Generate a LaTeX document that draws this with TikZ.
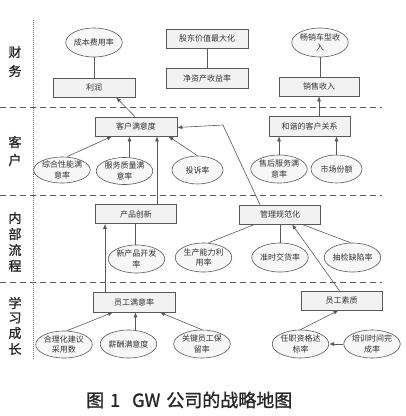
\documentclass[tikz,border=0pt]{standalone}
\usepackage{fontspec}
\newfontfamily\cjk{Noto Sans CJK SC}
\newfontfamily\cjkmid[FakeBold=1.2]{Noto Sans CJK SC}
\usetikzlibrary{shapes.geometric,arrows.meta,calc}
\tikzset{
  box/.style={draw=black!65, fill=black!5, line width=0.6pt, minimum height=19pt, minimum width=82pt, inner sep=0pt, font=\cjk\fontsize{8}{11}\selectfont, text=black!80},
  oval/.style={ellipse, draw=black!65, fill=black!3, line width=0.6pt, inner sep=0pt, align=center, font=\cjk\fontsize{8}{10.5}\selectfont, text=black!80},
  link/.style={draw=black!65, line width=0.6pt},
  arr/.style={link, -{Latex[length=5pt,width=4pt]}},
  sep/.style={draw=black!65, line width=1pt, dash pattern=on 6pt off 4pt},
  cat/.style={font=\cjkmid\fontsize{13}{13}\selectfont, text=black!85},
}
\begin{document}
\begin{tikzpicture}[x=1pt,y=-1pt]
\useasboundingbox (0,0) rectangle (406,416);
% separators
\draw[sep] (0,107) -- (382,107);
\draw[sep] (0,195) -- (382,195);
\draw[sep] (0,282) -- (382,282);
\draw[draw=black!55, line width=0.6pt, dash pattern=on 1pt off 1pt] (33,20) -- (33,360);
% category labels
\node[cat] (c1) at (15,52) {财};
\node[cat] (c2) at (15,71) {务};
\node[cat] (c3) at (15,142) {客};
\node[cat] (c4) at (15,160) {户};
\node[cat] (c5) at (15,218) {内};
\node[cat] (c6) at (15,234) {部};
\node[cat] (c7) at (15,250) {流};
\node[cat] (c8) at (15,266) {程};
\node[cat] (c9) at (15,303) {学};
\node[cat] (c10) at (15,318) {习};
\node[cat] (c11) at (15,333) {成};
\node[cat] (c12) at (15,349) {长};
% finance
\node[oval, minimum width=52pt, minimum height=29pt] (cost) at (94,42.5) {成本费用率};
\node[box] (profit) at (94,87.5) {利润};
\node[box] (sv) at (207,38.5) {股东价值最大化};
\node[box, minimum height=20pt] (roe) at (207,78) {净资产收益率};
\node[oval, minimum width=52pt, minimum height=29pt] (hot) at (320,42.5) {畅销车型收\\入};
\node[box, minimum width=80pt] (sales) at (319,86.5) {销售收入};
% customer
\node[box] (cs) at (136,126.5) {客户满意度};
\node[box, minimum width=81pt, minimum height=20pt] (hr) at (309.5,126) {和谐的客户关系};
\node[oval, minimum width=49pt, minimum height=26pt] (perf) at (62,170) {综合性能满\\意率};
\node[oval, minimum width=46pt, minimum height=27pt] (svc) at (124.5,171) {服务质量满\\意率};
\node[oval, minimum width=51pt, minimum height=28pt] (comp) at (197.5,170) {投诉率};
\node[oval, minimum width=52pt, minimum height=28pt] (after) at (279,169) {售后服务满\\意率};
\node[oval, minimum width=51pt, minimum height=28pt] (mkt) at (336.5,169) {市场份额};
% internal process
\node[box, minimum width=81pt] (pi) at (136,214) {产品创新};
\node[box, minimum width=81pt] (mgmt) at (280,214.5) {管理规范化};
\node[oval, minimum width=53pt, minimum height=28pt] (npd) at (136.5,259) {新产品开发\\率};
\node[oval, minimum width=46pt, minimum height=29pt] (cap) at (203.5,257.5) {生产能力利\\用率};
\node[oval, minimum width=54pt, minimum height=29pt] (ontime) at (280,257.5) {准时交货率};
\node[oval, minimum width=49pt, minimum height=29pt] (defect) at (352.5,257.5) {抽检缺陷率};
% learning
\node[box, minimum height=20pt] (es) at (134,302) {员工满意率};
\node[box, minimum width=81pt] (eq) at (341.5,300.5) {员工素质};
\node[oval, minimum width=52pt, minimum height=27pt] (sugg) at (64,344.5) {合理化建议\\采用数};
\node[oval, minimum width=43pt, minimum height=28pt] (pay) at (128.5,344) {薪酬满意度};
\node[oval, minimum width=50pt, minimum height=28pt] (key) at (202,344) {关键员工保\\留率};
\node[oval, minimum width=53pt, minimum height=28pt] (qual) at (300.5,344) {任职资格达\\标率};
\node[oval, minimum width=50pt, minimum height=28pt] (train) at (372,344) {培训时间完\\成率};
% connectors finance
\draw[link] (cost.south) -- (profit.north);
\draw[link] (sv.south) -- (roe.north);
\draw[link] (hot.south) -- (hot.south |- sales.north);
% customer arrows
\draw[arr] ([xshift=-1pt]cs.north) -- ([xshift=22pt]profit.south);
\draw[arr] (sales.south |- hr.north) -- (sales.south);
\draw[arr] ([xshift=5pt]perf.north) -- ([xshift=-24pt]cs.south);
\draw[arr] ([xshift=5pt]svc.north) -- ([xshift=5pt]svc.north |- cs.south);
\draw[arr] (comp.north) -- ([xshift=-9pt]cs.south east);
\draw[arr] ([xshift=21pt]pi.north) -- ([xshift=21pt]pi.north |- cs.south);
\coordinate (bend) at (223,125);
\draw[arr] ([xshift=-20pt]mgmt.north) -- (bend) -- ([yshift=-1pt]cs.east);
\draw[arr] (after.north) -- (after.north |- hr.south);
\draw[arr] (mkt.north) -- (mkt.north |- hr.south);
% internal process links
\draw[link] ([xshift=-1pt]npd.north) -- ([xshift=-1pt]npd.north |- pi.south);
\draw[link] ([xshift=5pt]cap.north) -- ([xshift=-25pt]mgmt.south);
\draw[link] (ontime.north) -- (mgmt.south);
\draw[link] ([xshift=-2pt]defect.north) -- ([xshift=22pt]mgmt.south);
\draw[arr] ([xshift=-2pt]eq.north) -- ([xshift=12pt]mgmt.south);
\draw[arr] ([xshift=-29pt]es.north) -- ([xshift=-29pt]es.north |- pi.south);
% learning arrows
\draw[arr] ([xshift=3pt]sugg.north) -- ([xshift=-21pt]es.south);
\draw[arr] ([xshift=7pt]pay.north) -- ([xshift=7pt]pay.north |- es.south);
\draw[arr] (key.north) -- ([xshift=26pt]es.south);
\draw[arr] (qual.north) -- ([xshift=-3pt]eq.south);
\draw[arr] (train.west) -- (qual.east);
% caption
\node[anchor=west, font=\cjkmid\fontsize{18}{18}\selectfont, text=black!85, inner sep=0pt] (cap1) at (86,400) {图\hspace{6pt}1\hspace{12pt}GW\hspace{6pt}公司的战略地图};
\end{tikzpicture}
\end{document}
